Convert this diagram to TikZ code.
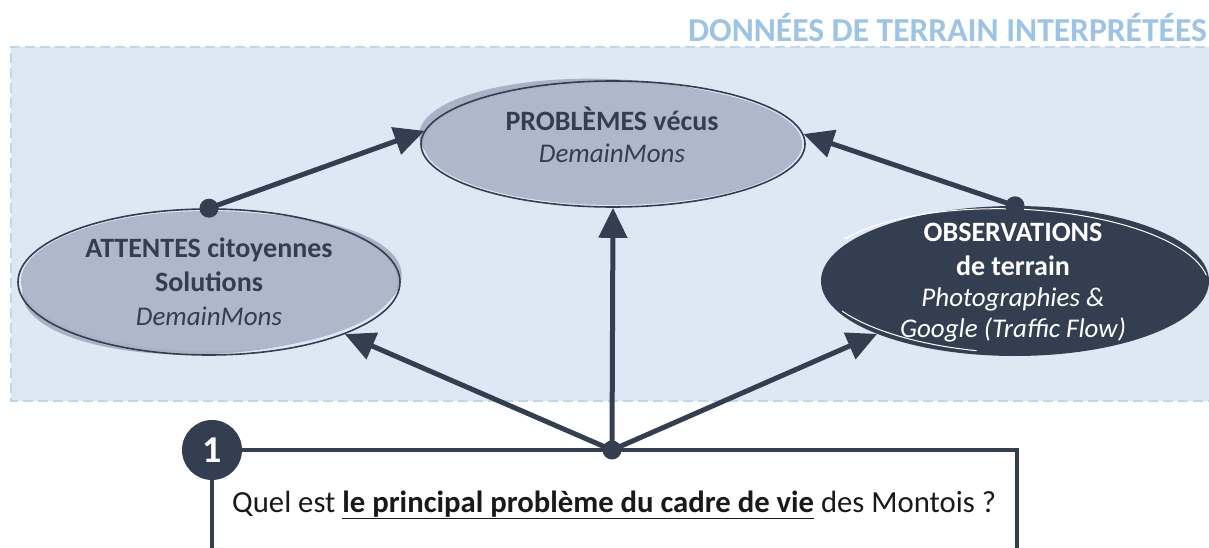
\documentclass[tikz,border=0pt]{standalone}
\usepackage{fontspec}
\setmainfont{Carlito}
\usetikzlibrary{shapes.geometric,arrows.meta,calc}
\definecolor{dk}{HTML}{333F50}
\definecolor{md}{HTML}{ADB9CA}
\definecolor{sh}{HTML}{A7B3C5}
\definecolor{bg}{HTML}{DEE8F5}
\definecolor{bd}{HTML}{BDD7EE}
\definecolor{tt}{HTML}{9DC3E6}
\begin{document}
\begin{tikzpicture}[x=1pt,y=-1pt,
  ell/.style={ellipse, inner sep=0pt, draw=dk, line width=1.6pt},
  bt/.style={font=\fontsize{28}{34}\selectfont\bfseries, align=center, inner sep=0pt},
  it/.style={font=\fontsize{27}{31}\selectfont\itshape, align=center, inner sep=0pt},
  arr/.style={draw=dk, line width=5pt, -{Triangle[length=30pt,width=28pt]}},
  hubdot/.style={circle, fill=dk, inner sep=0pt, minimum size=19pt}]
\useasboundingbox (0,0) rectangle (1209,548);
% zone
\fill[bg] (11,47) rectangle (1220,401);
\draw[bd, line width=2pt, dash pattern=on 10pt off 5pt] (1220,47) -- (11,47) -- (11,401) -- (1220,401);
\node[anchor=base east, text=tt, font=\fontsize{33.5}{34}\selectfont\bfseries, inner sep=0pt] (title) at (1207,42) {DONNÉES DE TERRAIN INTERPRÉTÉES};
% ellipses
\fill[sh, rotate around={-2:(608,141)}] (608,141) ellipse [x radius=189, y radius=62];
\fill[md] (613,144) ellipse [x radius=189, y radius=61];
\node[ell, minimum width=384pt, minimum height=126pt] (prob) at (613,144) {};
\node[bt, text=dk] (probt) at (612,119) {PROBLÈMES vécus};
\node[it, text=dk] (probs) at (612,153) {DemainMons};

\fill[sh, rotate around={3:(212,284)}] (212,284) ellipse [x radius=190, y radius=70];
\fill[md] (209,281) ellipse [x radius=188, y radius=70];
\node[ell, minimum width=382pt, minimum height=146pt] (att) at (209,282) {};
\node[bt, text=dk] (attt) at (209,265) {ATTENTES citoyennes\\Solutions};
\node[it, text=dk] (atts) at (209,316) {DemainMons};

\node[ellipse, fill=dk, inner sep=0pt, minimum width=388pt, minimum height=150pt] (obs) at (1015,281) {};
\draw[white, line width=1pt, rotate around={-2:(1013,281)}] (1013,281) ++(-150:196 and 72) arc[start angle=-150, end angle=-10, x radius=196, y radius=72];
\draw[white, line width=1pt, rotate around={-2:(1013,281)}] (1013,281) ++(100:196 and 72) arc[start angle=100, end angle=150, x radius=196, y radius=72];
\node[bt, text=white] (obst) at (1013,249) {OBSERVATIONS\\de terrain};
\node[it, text=white] (obss) at (1013,315) {Photographies \&\\Google (Traffic Flow)};
% box
\coordinate (bl) at (212,560);
\coordinate (tl) at (212,450);
\coordinate (tr) at (1017,450);
\coordinate (br) at (1017,560);
\draw[dk, line width=4pt] (bl) -- (tl) -- (tr) -- (br);
\node[circle, fill=dk, inner sep=0pt, minimum size=60pt, text=white, font=\fontsize{38}{38}\selectfont\bfseries] (num) at (tl) {1};
\node[anchor=base west, inner sep=0pt, text=black!90, font=\fontsize{30.7}{34}\selectfont] (q) at (232,512) {Quel est \underline{\bfseries le principal problème du cadre de vie} des Montois ?};
% connectors
\node[hubdot] (hub) at (612,450) {};
\node[hubdot] (attdot) at (att.north) {};
\node[hubdot] (obsdot) at (obs.north) {};
\draw[arr] (attdot.center) -- (prob.176);
\draw[arr] (obsdot.center) -- (prob.3);
\draw[arr] (hub.center) -- (prob.south);
\draw[arr] (hub.center) -- (att.339);
\draw[arr] (hub.center) -- (obs.201);
\end{tikzpicture}
\end{document}
